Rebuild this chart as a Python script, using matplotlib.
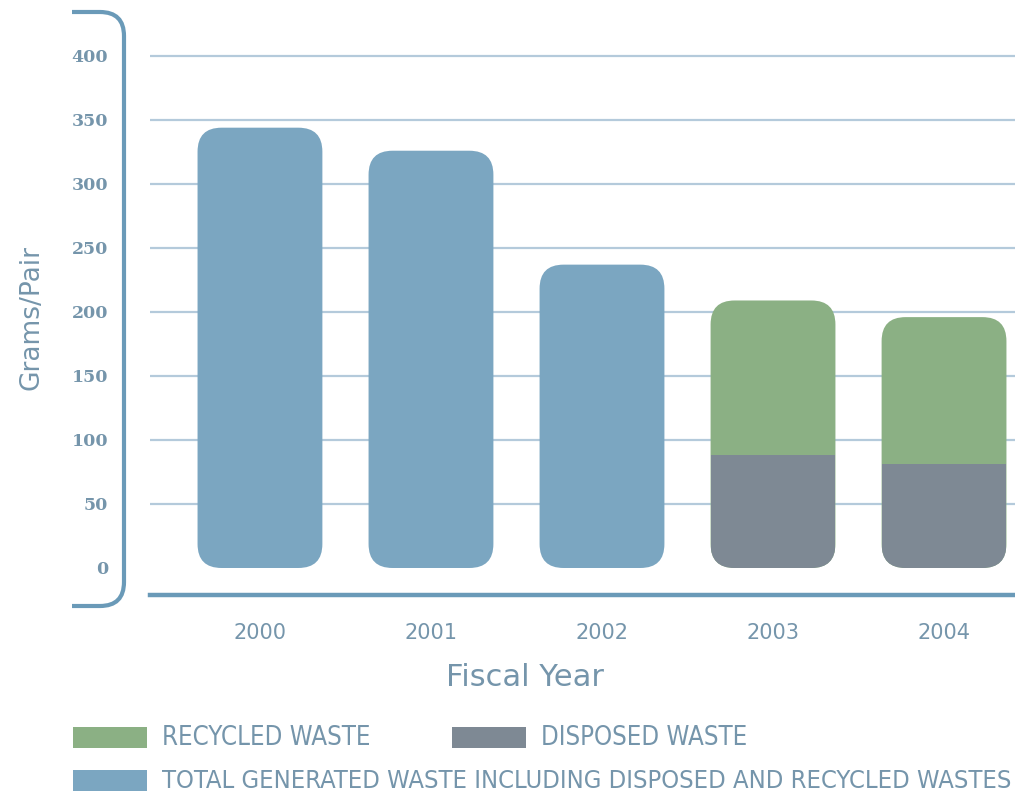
import numpy as np
import matplotlib
matplotlib.use("Agg")
import matplotlib.pyplot as plt
from matplotlib.patches import FancyBboxPatch, Rectangle, PathPatch
from matplotlib.path import Path

# ---------------------------------------------------------------------------
# data
# ---------------------------------------------------------------------------
years = ["2000", "2001", "2002", "2003", "2004"]
total_waste = [344, 326, 237, 209, 196]
recycled_waste = [None, None, None, 121, 115]
disposed_waste = [None, None, None, 88, 81]
y_ticks = [0, 50, 100, 150, 200, 250, 300, 350, 400]

legend_labels = ["RECYCLED WASTE", "DISPOSED WASTE",
                 "TOTAL GENERATED WASTE INCLUDING DISPOSED AND RECYCLED WASTES"]

# ---------------------------------------------------------------------------
# style
# ---------------------------------------------------------------------------
BLUE = "#7ba6c1"
GREEN = "#8bb084"
GRAY = "#7e8994"
GRID = "#b4cadb"
AXIS = "#6a9ab8"
TEXT = "#7595ab"

W, H, DPI = 1015, 796, 100
fig = plt.figure(figsize=(W / DPI, H / DPI), dpi=DPI)


def fx(px):
    return px / W


def fy(py):
    return 1 - py / H


# axes box in pixels: left 150, right 1015, top 40, bottom 595
ax = fig.add_axes([fx(150), fy(595), fx(1015 - 150), (595 - 40) / H])
ax.set_xlim(-0.643, 4.415)
ax.set_ylim(-21.1, 412.5)

bar_w = 0.73
px_per_x = (1015 - 150) / (4.415 + 0.643)
px_per_y = (595 - 40) / (412.5 + 21.1)
aspect = px_per_x / px_per_y
r = 24 / px_per_x


def rounded_bar(x, height, color):
    p = FancyBboxPatch((x - bar_w / 2, 0), bar_w, height,
                       boxstyle=f"round,pad=0,rounding_size={r}",
                       mutation_aspect=aspect, facecolor=color,
                       edgecolor="none", zorder=3)
    ax.add_patch(p)
    return p


for i, yr in enumerate(years):
    if recycled_waste[i] is None:
        rounded_bar(i, total_waste[i], BLUE)
    else:
        shape = rounded_bar(i, total_waste[i], GREEN)
        low = Rectangle((i - bar_w / 2, 0), bar_w, disposed_waste[i],
                        facecolor=GRAY, edgecolor="none", zorder=4)
        ax.add_patch(low)
        low.set_clip_path(shape)

# grid and axis
ax.set_yticks(y_ticks)
ax.set_yticklabels([str(v) for v in y_ticks])
ax.yaxis.grid(True, color=GRID, linewidth=1.6, zorder=0)
ax.yaxis.get_gridlines()[0].set_visible(False)
ax.set_axisbelow(True)
ax.set_xticks(range(len(years)))
ax.set_xticklabels(years)

for s in ["top", "right", "left"]:
    ax.spines[s].set_visible(False)
ax.spines["bottom"].set_color(AXIS)
ax.spines["bottom"].set_linewidth(3.2)

ax.tick_params(axis="y", length=0, pad=30, labelsize=12.5, labelcolor=TEXT)
ax.tick_params(axis="x", length=0, pad=20, labelsize=15, labelcolor=TEXT)
for lbl in ax.get_yticklabels():
    lbl.set_fontweight("bold")
    lbl.set_fontfamily("DejaVu Serif")
for lbl in ax.get_xticklabels():
    lbl.set_fontfamily("DejaVu Sans")
    lbl.set_fontweight("medium")

fig.text(fx(525), fy(678), "Fiscal Year", ha="center", va="center",
         fontsize=22, color=TEXT, family="DejaVu Sans")
fig.text(fx(31), fy(318), "Grams/Pair", ha="center", va="center",
         rotation=90, fontsize=19, color=TEXT, family="DejaVu Sans")

# bracket on the left
verts = [(fx(72), fy(12)), (fx(100), fy(12)),
         (fx(124), fy(12)), (fx(124), fy(36)),
         (fx(124), fy(582)),
         (fx(124), fy(606)), (fx(100), fy(606)),
         (fx(72), fy(606))]
codes = [Path.MOVETO, Path.LINETO, Path.CURVE3, Path.CURVE3, Path.LINETO,
         Path.CURVE3, Path.CURVE3, Path.LINETO]
fig.add_artist(PathPatch(Path(verts, codes), facecolor="none", edgecolor=AXIS,
                         linewidth=3.0, transform=fig.transFigure))

# legend
legend_rows = [
    (73, 727, GREEN, legend_labels[0]),
    (452, 727, GRAY, legend_labels[1]),
    (73, 770, BLUE, legend_labels[2]),
]
LEG_SIZE = 18.5
renderer = fig.canvas.get_renderer()
for x0, y0, col, txt in legend_rows:
    fig.add_artist(Rectangle((fx(x0), fy(y0 + 21)), fx(74), 21 / H,
                             facecolor=col, edgecolor="none",
                             transform=fig.transFigure))
    t = fig.text(fx(x0 + 89), fy(y0 + 11), txt, ha="left", va="center",
                 fontsize=LEG_SIZE, color=TEXT, family="DejaVu Sans",
                 stretch="condensed")
    # keep the long label inside the right edge
    bb = t.get_window_extent(renderer)
    if bb.x1 > W - 3:
        t.set_fontsize(LEG_SIZE * (W - 3 - bb.x0) / bb.width)

fig.savefig("out.png", dpi=DPI, facecolor="white")
